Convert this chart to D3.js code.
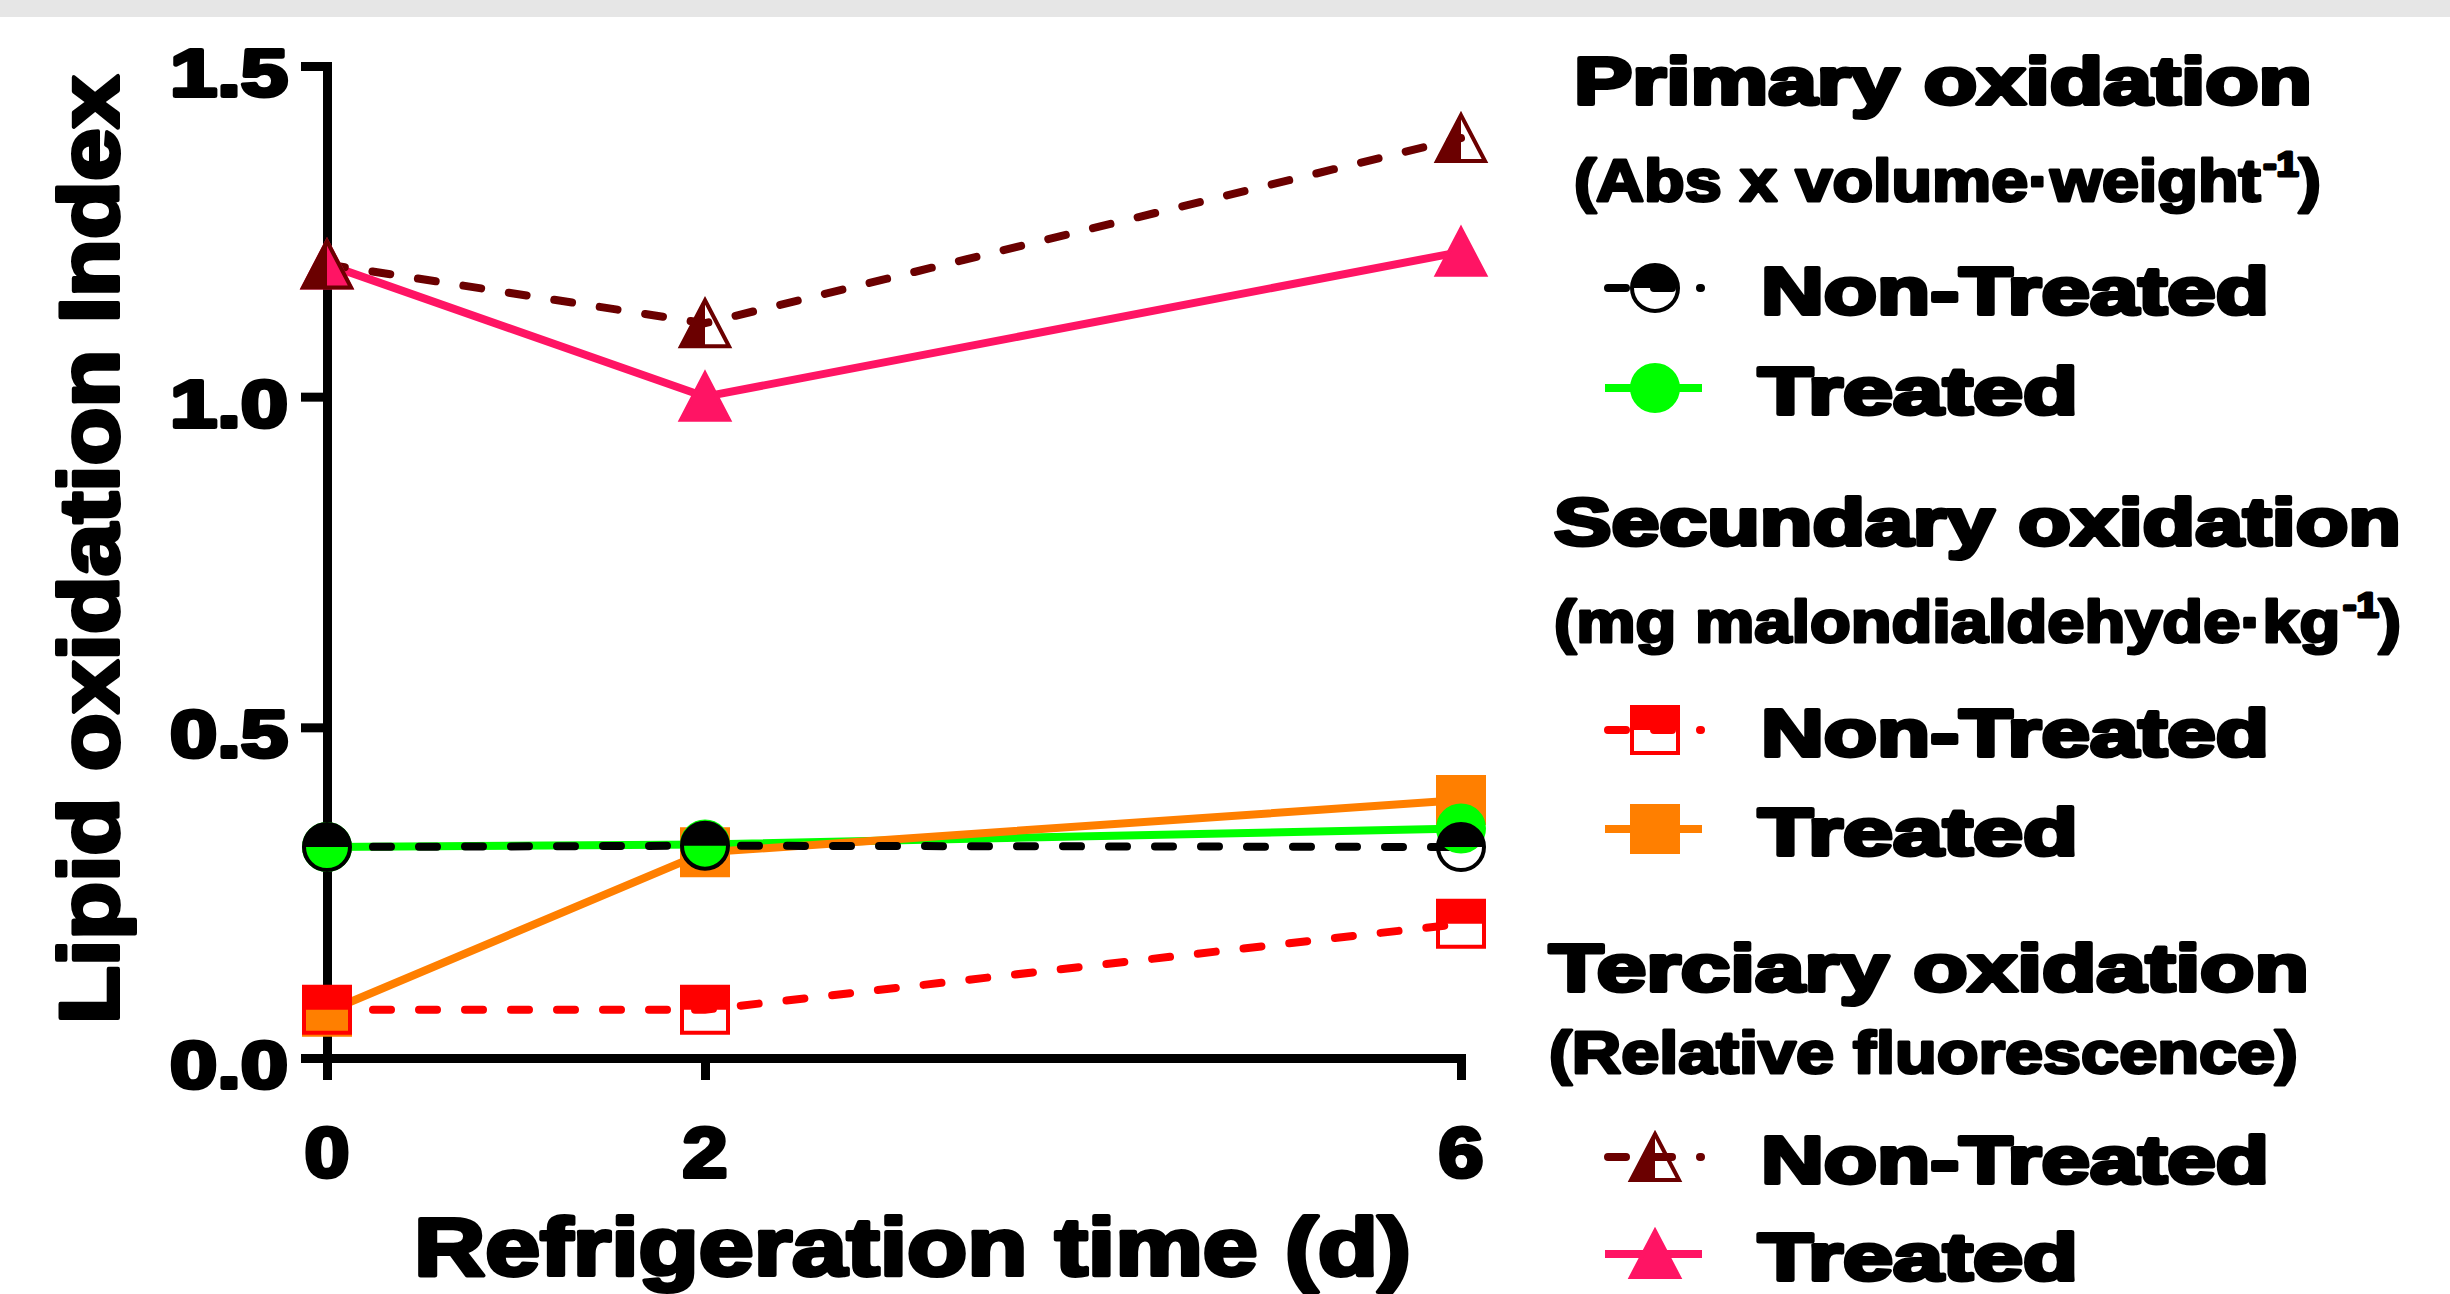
<!DOCTYPE html>
<html><head><meta charset="utf-8">
<script src="https://cdn.jsdelivr.net/npm/d3@7"></script>
<style>html,body{margin:0;padding:0;background:#fff;overflow:hidden}</style>
</head><body>
<svg id="chart" width="2450" height="1294"></svg>
<script>
// ---------------- data ----------------
const days = [0, 2, 6];
const xTickLabels = ["0", "2", "6"];
const yTicks = [0, 0.5, 1.0, 1.5];
const yTickLabels = ["0.0", "0.5", "1.0", "1.5"];

const primaryNonTreated   = [0.319, 0.321, 0.319];
const primaryTreated      = [0.319, 0.323, 0.347];
const secondaryNonTreated = [0.073, 0.073, 0.203];
const secondaryTreated    = [0.070, 0.311, 0.390];
const tertiaryNonTreated  = [1.200, 1.111, 1.391];
const tertiaryTreated     = [1.200, 1.000, 1.219];

const groupTitles = ["Primary oxidation", "Secundary oxidation", "Terciary oxidation"];
const groupUnits = [
  ["(Abs x volume·weight", "-1", ")"],
  ["(mg malondialdehyde·kg", "-1", ")"],
  ["(Relative fluorescence)"]
];
const legendLabels = ["Non-Treated", "Treated"];
const xTitle = "Refrigeration time (d)";
const yTitle = "Lipid oxidation Index";

// ---------------- styles ----------------
const series = [
  {id: "pNT", group: 0, treated: false, values: primaryNonTreated,   color: "#000000", shape: "circle"},
  {id: "pT",  group: 0, treated: true,  values: primaryTreated,      color: "#00ff00", shape: "circle"},
  {id: "sNT", group: 1, treated: false, values: secondaryNonTreated, color: "#ff0000", shape: "square"},
  {id: "sT",  group: 1, treated: true,  values: secondaryTreated,    color: "#ff7f00", shape: "square"},
  {id: "tNT", group: 2, treated: false, values: tertiaryNonTreated,  color: "#6b0000", shape: "triangle"},
  {id: "tT",  group: 2, treated: true,  values: tertiaryTreated,     color: "#ff1464", shape: "triangle"}
];
const byId = Object.fromEntries(series.map(s => [s.id, s]));

const FONT = "'Liberation Sans', Arial, Helvetica, sans-serif";
const svg = d3.select("#chart");

// top grey band
svg.append("rect").attr("x", 0).attr("y", 0).attr("width", 2450).attr("height", 17).attr("fill", "#e6e6e6");

const x = d3.scaleLinear().domain([0, 6]).range([327, 1461]);
const y = d3.scaleLinear().domain([0, 1.5]).range([1058, 66]);

// text fitted to a measured width
function fitText(parent, parts, o) {
  const t = parent.append("text")
    .attr("font-family", FONT).attr("font-weight", 700).attr("font-size", o.size)
    .attr("fill", "#000").attr("stroke", "#000").attr("stroke-width", o.sw == null ? 3.5 : o.sw)
    .attr("stroke-linejoin", "round");
  if (typeof parts === "string") parts = [parts];
  parts.forEach((p, i) => {
    const ts = t.append("tspan").text(p);
    if (i === 1) ts.attr("font-size", o.size * 0.6).attr("dy", -o.size * 0.42).attr("dx", o.size * 0.04);
    if (i === 2) ts.attr("dy", o.size * 0.42);
  });
  const w = t.node().getBBox().width;
  const sx = o.width / w;
  t.attr("transform", `translate(${o.x},${o.y})${o.rotate ? " rotate(-90)" : ""} scale(${sx},1)`);
  return t;
}

// ---------------- axes ----------------
const axisColor = "#000";
const gY = svg.append("g").attr("transform", `translate(${x(0)},0)`)
  .call(d3.axisLeft(y).tickValues(yTicks).tickSize(26).tickSizeOuter(0).tickFormat(""));
const gX = svg.append("g").attr("transform", `translate(0,${y(0)})`)
  .call(d3.axisBottom(x).tickValues(days).tickSize(22).tickSizeOuter(0).tickFormat(""));
[gY, gX].forEach(g => {
  g.select(".domain").attr("stroke", axisColor).attr("stroke-width", 9).attr("stroke-linecap", "square");
  g.selectAll(".tick line").attr("stroke", axisColor).attr("stroke-width", 9);
});

yTicks.forEach((v, i) => fitText(svg, yTickLabels[i], {x: 170, y: y(v) + 30, size: 66, width: 118, sw: 4}));
days.forEach((d, i) => fitText(svg, xTickLabels[i], {x: x(d) - 22.5, y: 1177, size: 70, width: 45, sw: 4}));
fitText(svg, xTitle, {x: 414, y: 1275, size: 81, width: 997, sw: 4});
fitText(svg, yTitle, {x: 118, y: 1024, size: 84, width: 949, rotate: true, sw: 4});

// ---------------- marks ----------------
const defs = svg.append("defs");
defs.append("clipPath").attr("id", "topHalf").append("rect").attr("x", -40).attr("y", -40).attr("width", 80).attr("height", 40);
defs.append("clipPath").attr("id", "leftHalf").append("rect").attr("x", -40).attr("y", -40).attr("width", 40).attr("height", 80);

function shapePath(shape) {
  if (shape === "circle") { const p = d3.path(); p.arc(0, 0, 23, 0, 2 * Math.PI); p.closePath(); return p.toString(); }
  if (shape === "square") return "M-23,-23H23V23H-23Z";
  return "M0,-23L24,23L-24,23Z";
}

function drawMarker(g, s) {
  const d = shapePath(s.shape);
  if (s.treated) {
    g.append("path").attr("d", d).attr("fill", s.color).attr("stroke", s.color).attr("stroke-width", 4);
  } else {
    g.append("path").attr("d", d).attr("fill", s.color)
      .attr("clip-path", s.shape === "triangle" ? "url(#leftHalf)" : "url(#topHalf)");
    g.append("path").attr("d", d).attr("fill", "none").attr("stroke", s.color).attr("stroke-width", 4);
  }
}

const line = d3.line().x((v, i) => x(days[i])).y(v => y(v));
const plot = svg.append("g");
["pT", "sT", "tT", "pNT", "sNT", "tNT"].forEach(id => {
  const s = byId[id];
  const p = plot.append("path").attr("d", line(s.values)).attr("fill", "none")
    .attr("stroke", s.color).attr("stroke-width", 8);
  if (!s.treated) p.attr("stroke-dasharray", "18,28").attr("stroke-linecap", "round");
});
["sT", "pT", "tT", "sNT", "pNT", "tNT"].forEach(id => {
  const s = byId[id];
  s.values.forEach((v, i) => {
    const g = plot.append("g").attr("transform", `translate(${x(days[i])},${y(v)})`);
    drawMarker(g, s);
  });
});

// ---------------- legend ----------------
const legend = svg.append("g");
const headerPos = [
  {tx: 1574, tw: 738, ty: 104, ux: 1574, uw: 747, uy: 201, rows: [288, 388]},
  {tx: 1554, tw: 847, ty: 545, ux: 1554, uw: 847, uy: 642, rows: [730, 829]},
  {tx: 1549, tw: 760, ty: 991, ux: 1549, uw: 749, uy: 1073, rows: [1157, 1254]}
];
headerPos.forEach((h, gi) => {
  fitText(legend, groupTitles[gi], {x: h.tx, y: h.ty, size: 67, width: h.tw, sw: 4});
  fitText(legend, groupUnits[gi], {x: h.ux, y: h.uy, size: 60, width: h.uw, sw: 3});
  const members = series.filter(s => s.group === gi);
  [false, true].forEach((tr, ri) => {
    const s = members.find(m => m.treated === tr);
    const cy = h.rows[ri];
    const ln = legend.append("line").attr("y1", cy).attr("y2", cy)
      .attr("stroke", s.color).attr("stroke-width", 8);
    if (tr) ln.attr("x1", 1605).attr("x2", 1702);
    else ln.attr("x1", 1608).attr("x2", 1701).attr("stroke-dasharray", "18,28").attr("stroke-linecap", "round");
    const g = legend.append("g").attr("transform", `translate(1655,${cy})`);
    drawMarker(g, s);
    const label = legendLabels[ri];
    fitText(legend, label, tr ? {x: 1758, y: cy + 26, size: 67, width: 320, sw: 4} : {x: 1761, y: cy + 26, size: 67, width: 508, sw: 4});
  });
});
</script>
</body></html>
